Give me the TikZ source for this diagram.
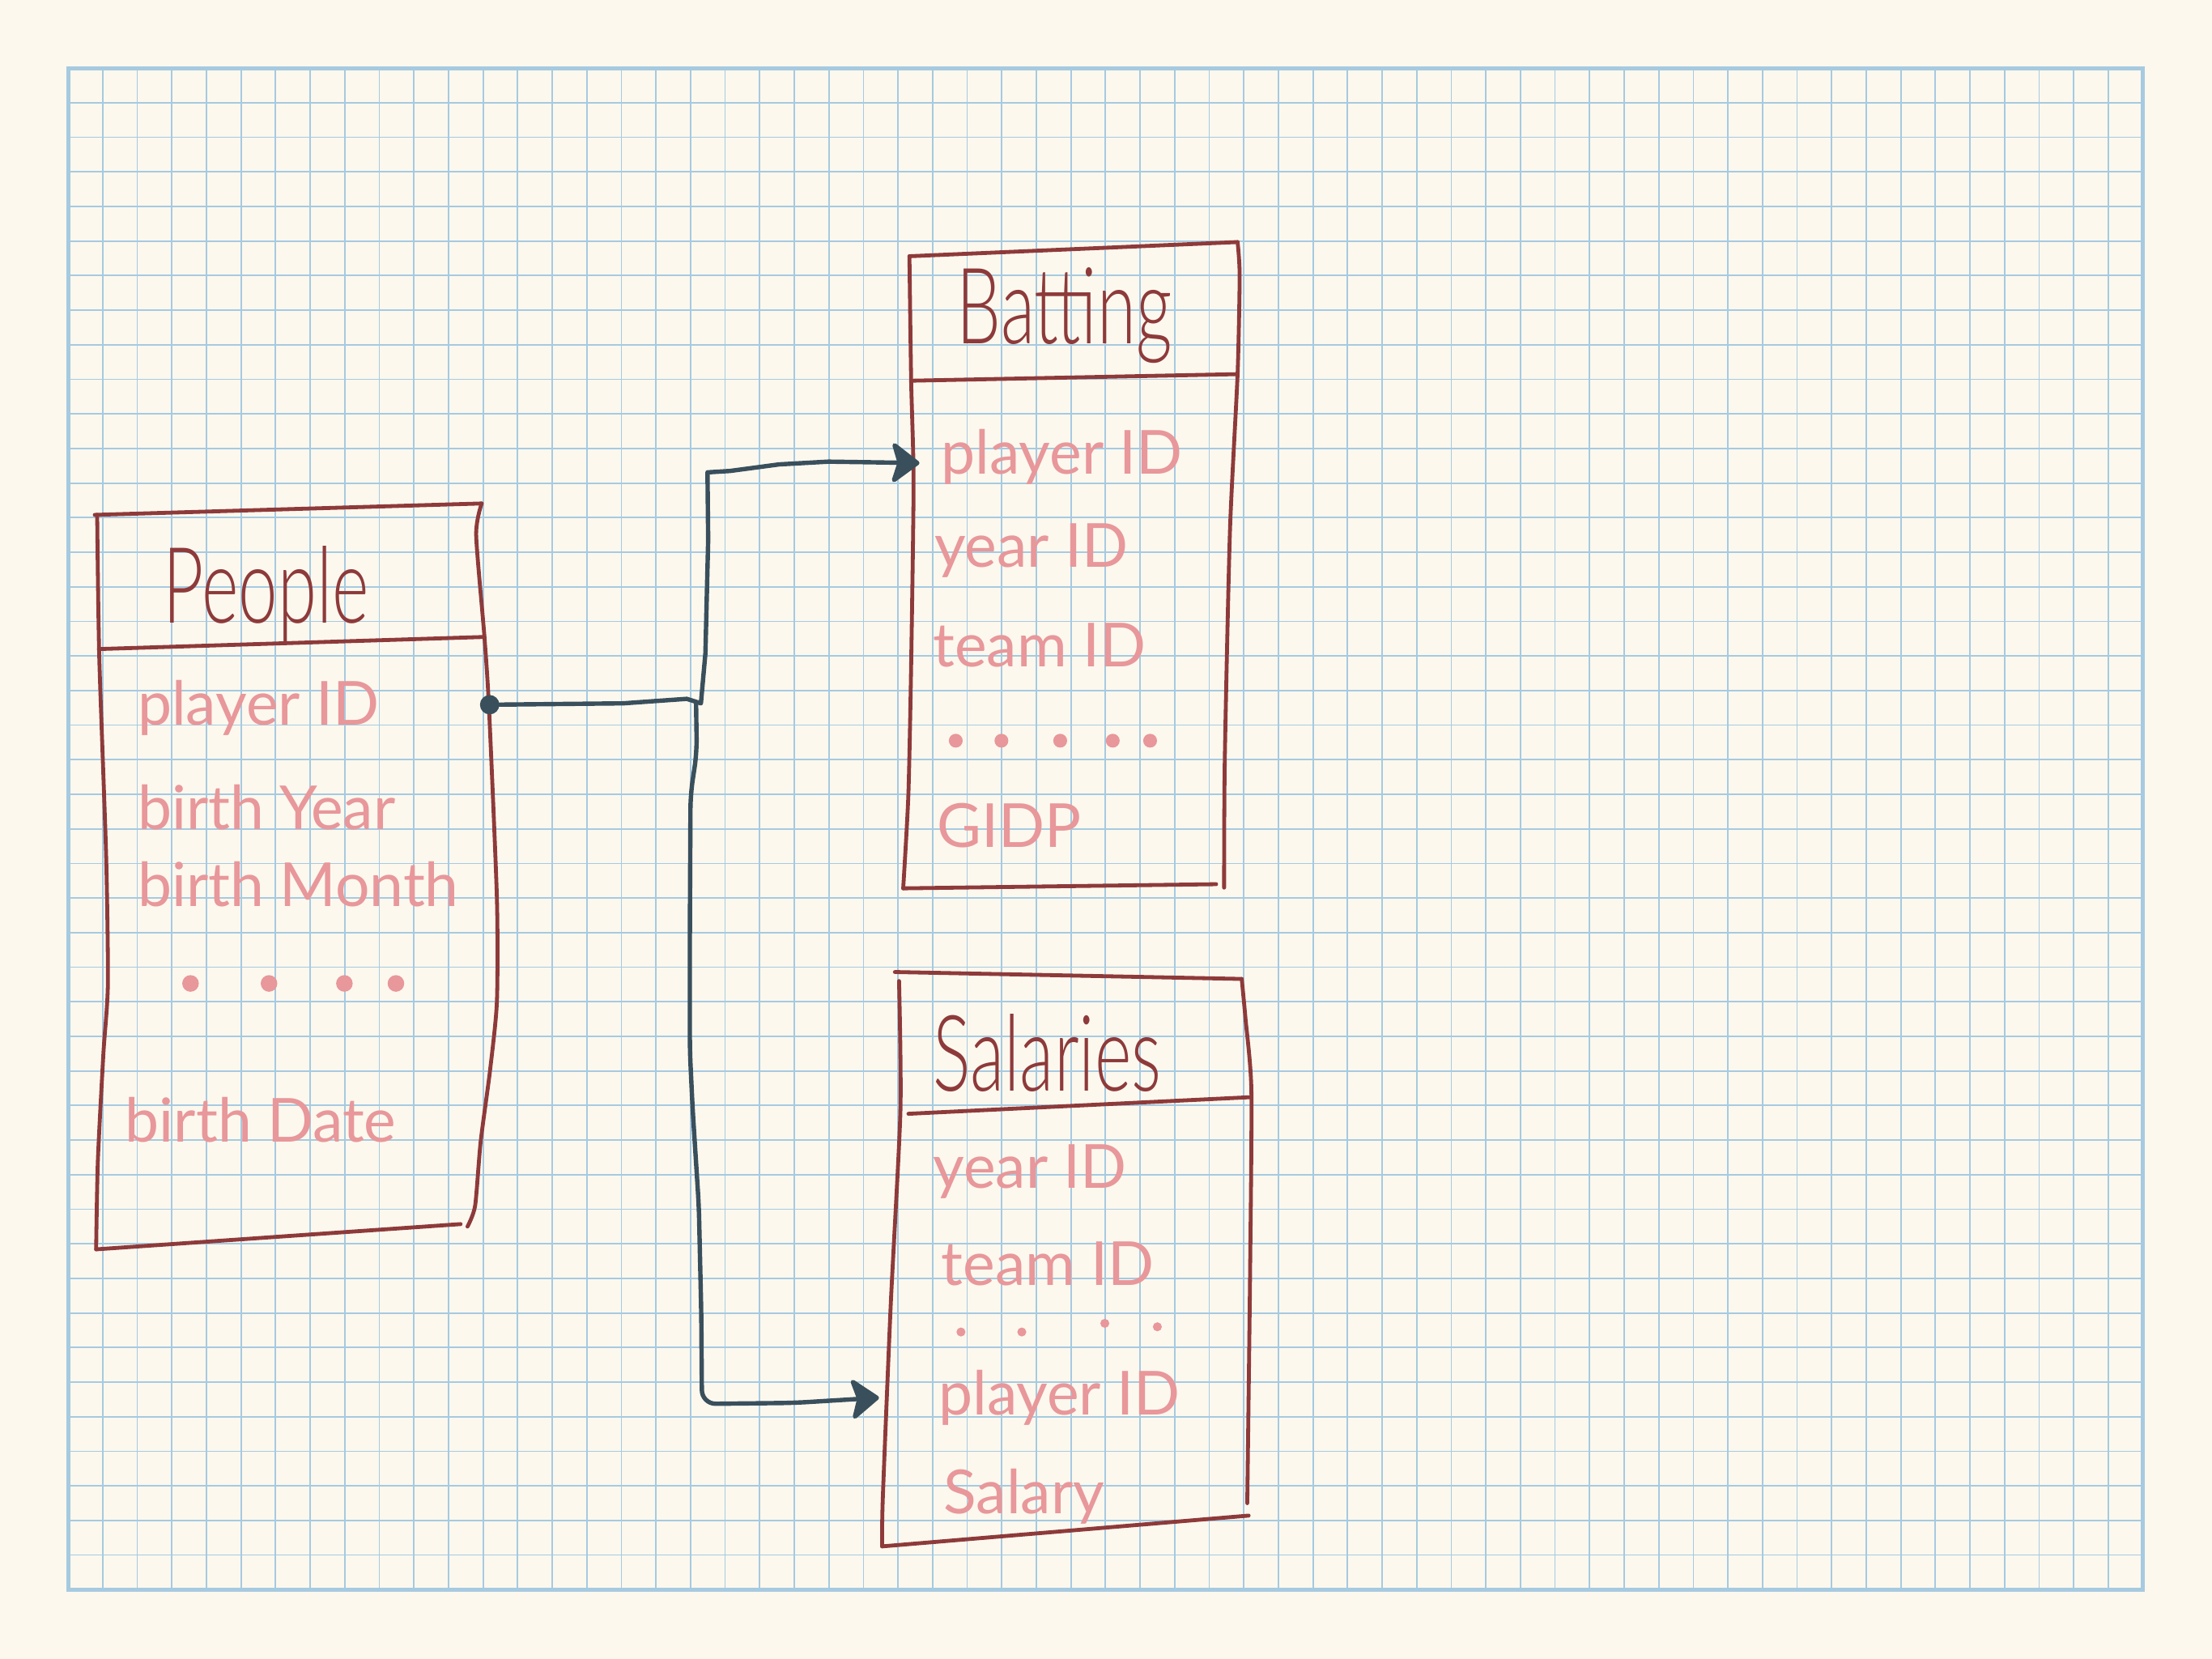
\documentclass[tikz,border=0pt]{standalone}
\usepackage{fontspec}
\setmainfont{Lato}
\newfontfamily\lightfont{Lato Light}
\usepackage{graphicx}
\usepackage{xcolor}
\usepackage{tikz}
\usetikzlibrary{arrows.meta}
\definecolor{paperCream}{HTML}{FCF8EE}
\definecolor{gridBlue}{HTML}{A6CAE0}
\definecolor{boxRed}{HTML}{8E3A3A}
\definecolor{fieldPink}{HTML}{E8979A}
\definecolor{linkSlate}{HTML}{3A4F5C}
\newcommand{\tallname}[1]{\scalebox{1}[1.5]{#1}}
\tikzset{tbl-line/.style={draw=boxRed, line width=1.6pt, line cap=round, line join=round}}
\tikzset{tbl-title/.style={text=boxRed, anchor=base, inner sep=0pt, font=\lightfont\fontsize{29}{32}\selectfont}}
\tikzset{tbl-field/.style={text=fieldPink, anchor=base west, inner sep=0pt, font=\fontsize{25}{30}\selectfont}}
\tikzset{link-line/.style={draw=linkSlate, line width=1.8pt, line cap=round, line join=round}}
\tikzset{link-tip/.style={-{Stealth[length=4.4mm, width=6.6mm, inset=1mm, round]}}}
\tikzset{key-dot/.style={circle, fill=linkSlate, inner sep=0pt, minimum size=0.28cm}}

\begin{document}
\begin{tikzpicture}[x=0.5cm, y=0.5cm]
    \useasboundingbox (-1.97,1.97) rectangle (62,-46);
    \fill[paperCream] (-1.97,1.97) rectangle (62,-46);
    \draw[gridBlue, line width=0.6pt, step=0.5cm] (0,-44) grid (60,0);
    \draw[gridBlue, line width=1.7pt] (0,0) rectangle (60,-44);

    % People
    \draw[tbl-line] (0.77,-12.92) -- (11.96,-12.59);
    \draw[tbl-line] plot[smooth, tension=0.4] coordinates {(11.96,-12.59) (11.8,-13.5) (12.04,-16.45) (12.17,-18.47) (12.4,-24) (12.4,-27) (12.2,-29) (11.93,-31.05) (11.77,-32.9) (11.55,-33.5)};
    \draw[tbl-line] (0.89,-16.8) -- (12.04,-16.45);
    \draw[tbl-line] plot[smooth, tension=0.4] coordinates {(0.84,-12.92) (0.9,-17) (1.1,-22.8) (1.15,-26.5) (1.02,-28.5) (0.86,-31.6) (0.81,-34.16)};
    \draw[tbl-line] (0.81,-34.16) -- (11.35,-33.43);
    \node[tbl-title] (people-title) at (5.73,-16.05) {\tallname{People}};
    \node[tbl-field] (people-playerid) at (2.0,-19.0) {player ID};
    \node[tbl-field] (people-birthyear) at (2.0,-22.03) {birth Year};
    \node[tbl-field] (people-birthmonth) at (2.0,-24.25) {birth Month};
    \node[tbl-field] (people-birthdate) at (1.64,-31.05) {birth Date};
    \foreach \x in {3.54, 5.81, 7.99, 9.48}
        \fill[fieldPink] (\x,-26.47) circle (0.12cm);

    % Batting
    \draw[tbl-line] (24.33,-5.44) -- (33.82,-5.03);
    \draw[tbl-line] plot[smooth, tension=0.4] coordinates {(33.82,-5.03) (33.88,-6.0) (33.82,-8.85) (33.6,-13.37) (33.45,-20) (33.43,-23.7)};
    \draw[tbl-line] (24.38,-9.04) -- (33.82,-8.85);
    \draw[tbl-line] plot[smooth, tension=0.4] coordinates {(24.33,-5.44) (24.38,-9.04) (24.45,-12) (24.38,-17.24) (24.3,-21) (24.15,-23.72)};
    \draw[tbl-line] (24.15,-23.72) -- (33.2,-23.6);
    \node[tbl-title] (batting-title) at (28.81,-7.98) {\tallname{Batting}};
    \node[tbl-field] (batting-playerid) at (25.24,-11.74) {player ID};
    \node[tbl-field] (batting-yearid) at (25.04,-14.44) {year ID};
    \node[tbl-field] (batting-teamid) at (25.0,-17.32) {team ID};
    \node[tbl-field] (batting-gidp) at (25.12,-22.53) {GIDP};
    \foreach \x in {25.67, 26.99, 28.69, 30.21, 31.29}
        \fill[fieldPink] (\x,-19.45) circle (0.1cm);

    % Salaries
    \draw[tbl-line] (23.91,-26.14) -- (33.94,-26.34);
    \draw[tbl-line] plot[smooth, tension=0.4] coordinates {(33.94,-26.34) (34.05,-27.5) (34.22,-29.6) (34.18,-35) (34.1,-41.5)};
    \draw[tbl-line] (24.3,-30.24) -- (34.18,-29.76);
    \draw[tbl-line] plot[smooth, tension=0.4] coordinates {(24.03,-26.4) (24.07,-30.14) (23.79,-35.75) (23.56,-41.36) (23.54,-42.75)};
    \draw[tbl-line] (23.54,-42.75) -- (34.14,-41.86);
    \node[tbl-title] (salaries-title) at (28.32,-29.59) {\tallname{Salaries}};
    \node[tbl-field] (salaries-yearid) at (25.0,-32.39) {year ID};
    \node[tbl-field] (salaries-teamid) at (25.24,-35.19) {team ID};
    \node[tbl-field] (salaries-playerid) at (25.16,-38.95) {player ID};
    \node[tbl-field] (salaries-salary) at (25.31,-41.8) {Salary};
    \foreach \x/\y in {25.82/-36.55, 27.58/-36.55, 29.98/-36.3, 31.5/-36.4}
        \fill[fieldPink] (\x,\y) circle (0.065cm);

    % links
    \node[key-dot] (people-key) at (12.19,-18.41) {};
    \coordinate (link-split) at (18.16,-18.37);
    \coordinate (batting-in) at (24.62,-11.42);
    \coordinate (salaries-in) at (23.45,-38.45);
    \draw[link-line, link-tip] (people-key.center) -- (16.05,-18.37) -- (17.89,-18.24) -- (18.3,-18.37)
        -- (18.43,-16.92) -- (18.51,-13.64) -- (18.49,-11.69)
        -- (19.14,-11.65) -- (20.56,-11.46) -- (21.99,-11.38) -- (batting-in);
    \draw[link-line, link-tip, rounded corners=0.2cm] (link-split) -- (18.18,-19.8) -- (18.0,-21.0)
        -- (17.98,-25) -- (17.98,-28.4) -- (18.06,-30.1) -- (18.24,-32.9) -- (18.31,-36)
        -- (18.33,-38.63) -- (21,-38.6) -- (salaries-in);
\end{tikzpicture}
\end{document}
